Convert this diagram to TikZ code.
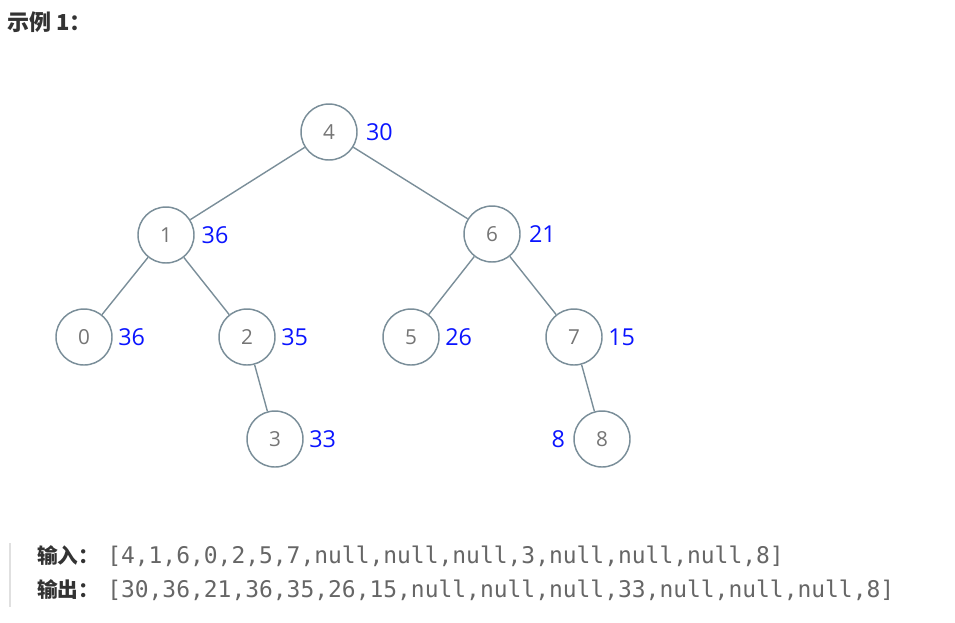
\documentclass[tikz,border=0pt]{standalone}
\usepackage{fontspec}
\setmainfont{Open Sans}
\setmonofont{DejaVu Sans Mono}
\newfontfamily\cjk{Noto Sans CJK SC}
\usetikzlibrary{positioning}
\definecolor{edgegray}{HTML}{7A8E99}
\definecolor{numgray}{HTML}{757575}
\definecolor{valblue}{HTML}{0A14FF}
\definecolor{codegray}{HTML}{666666}
\definecolor{bargray}{HTML}{E0E0E0}
\definecolor{textdark}{HTML}{333333}

\begin{document}
\begin{tikzpicture}[
		x=0.75pt, y=-0.75pt,
		treenode/.style={circle, draw=edgegray, line width=1.1pt, fill=white, minimum size=42pt, inner sep=0pt, font=\fontsize{15.5}{18}\selectfont, text=numgray},
		val/.style={inner sep=0pt, font=\fontsize{17.5}{20}\selectfont, text=valblue},
		edge/.style={draw=edgegray, line width=1.05pt},
		head/.style={inner sep=0pt, anchor=west, font=\cjk\bfseries\fontsize{16.5}{19}\selectfont, text=textdark},
		code/.style={inner sep=0pt, anchor=west, font=\ttfamily\fontsize{17.2}{20}\selectfont, text=codegray}
		]
		\useasboundingbox (0,0) rectangle (955,622);
		
		% --- TITLE ---
		\node[head] (title) at (7,22) {示例 1：};
		
		% --- TREE ---
		\node[treenode] (n4) at (329,132) {4};
		\node[treenode] (n1) at (166,235) {1};
		\node[treenode] (n6) at (492,234) {6};
		\node[treenode] (n0) at (84,337) {0};
		\node[treenode] (n2) at (247,337) {2};
		\node[treenode] (n5) at (411,337) {5};
		\node[treenode] (n7) at (574,337) {7};
		\node[treenode] (n3) at (275,439) {3};
		\node[treenode] (n8) at (602,439) {8};
		
		% edges
		\draw[edge] (n4) -- (n1);
		\draw[edge] (n4) -- (n6);
		\draw[edge] (n1) -- (n0);
		\draw[edge] (n1) -- (n2);
		\draw[edge] (n6) -- (n5);
		\draw[edge] (n6) -- (n7);
		\draw[edge] (n2) -- (n3);
		\draw[edge] (n7) -- (n8);
		
		% --- VALUES ---
		\node[val, right=6pt of n4] (v4) {30};
		\node[val, right=5pt of n1] (v1) {36};
		\node[val, right=6pt of n6] (v6) {21};
		\node[val, right=4pt of n0] (v0) {36};
		\node[val, right=4pt of n2] (v2) {35};
		\node[val, right=4pt of n5] (v5) {26};
		\node[val, right=4pt of n7] (v7) {15};
		\node[val, right=4pt of n3] (v3) {33};
		\node[val, left=6pt of n8] (v8) {8};
		
		% --- INPUT / OUTPUT ---
		\coordinate (bartop) at (10,543);
		\coordinate (barbot) at (10,607);
		\draw[bargray, line width=2.2pt] (bartop) -- (barbot);
		\node[head, font=\cjk\bfseries\fontsize{15.5}{18}\selectfont] (inlabel) at (37,556) {输入：};
		\node[code] (input) at (107,556) {[4,1,6,0,2,5,7,null,null,null,3,null,null,null,8]};
		\node[head, font=\cjk\bfseries\fontsize{15.5}{18}\selectfont] (outlabel) at (37,590) {输出：};
		\node[code] (output) at (107,590) {[30,36,21,36,35,26,15,null,null,null,33,null,null,null,8]};
		
	\end{tikzpicture}
\end{document}
